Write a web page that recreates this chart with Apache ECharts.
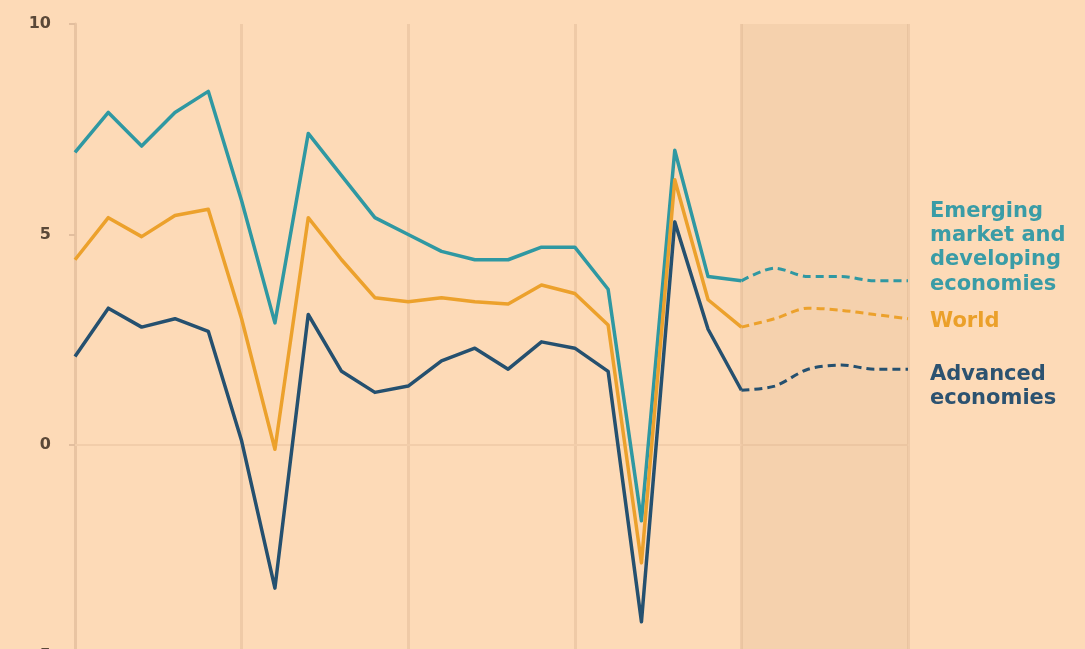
<!DOCTYPE html>
<html>
<head>
<meta charset="utf-8">
<script src="https://cdn.jsdelivr.net/npm/echarts@6/dist/echarts.min.js"></script>
<style>
  html, body { margin: 0; padding: 0; background: #FDDAB7; overflow: hidden; }
  #chart { width: 1085px; height: 700px; }
</style>
</head>
<body>
<div id="chart"></div>
<script>
// Real GDP growth, annual percent change
const years = ['2003','2004','2005','2006','2007','2008','2009','2010','2011','2012','2013','2014','2015',
               '2016','2017','2018','2019','2020','2021','2022','2023','2024','2025','2026','2027','2028'];
const emerging = [6.95, 7.9, 7.1, 7.9, 8.4, 5.8, 2.9, 7.4, 6.4, 5.4, 5.0, 4.6, 4.4,
                  4.4, 4.7, 4.7, 3.7, -1.8, 7.0, 4.0, 3.9, 4.2, 4.0, 4.0, 3.9, 3.9];
const world    = [4.4, 5.4, 4.95, 5.45, 5.6, 3.0, -0.1, 5.4, 4.4, 3.5, 3.4, 3.5, 3.4,
                  3.35, 3.8, 3.6, 2.85, -2.8, 6.3, 3.45, 2.8, 3.0, 3.25, 3.2, 3.1, 3.0];
const advanced = [2.1, 3.25, 2.8, 3.0, 2.7, 0.1, -3.4, 3.1, 1.75, 1.25, 1.4, 2.0, 2.3,
                  1.8, 2.45, 2.3, 1.75, -4.2, 5.3, 2.75, 1.3, 1.4, 1.8, 1.9, 1.8, 1.8];
const forecastFrom = '2023';
const forecastTo = '2028';
const yTicks = { min: -5, max: 10, step: 5 };

const colors = { emerging: '#2F98A2', world: '#ECA12C', advanced: '#25506F' };

const cut = years.indexOf(forecastFrom);
const actualPart = arr => arr.map((v, i) => (i <= cut ? v : null));
const forecastPart = arr => arr.map((v, i) => (i >= cut ? v : null));

function solid(name, arr, color) {
  return {
    name, type: 'line', data: actualPart(arr), z: 3,
    symbol: 'none', connectNulls: false,
    lineStyle: { color, width: 3.5, join: 'round' }
  };
}
function dashed(name, arr, color) {
  return {
    name: name + ' (projection)', type: 'line', data: forecastPart(arr), z: 3,
    symbol: 'none', smooth: 0.3,
    lineStyle: { color, width: 3, type: [8, 5] }
  };
}

const chart = echarts.init(document.getElementById('chart'), null, { renderer: 'canvas' });

chart.setOption({
  backgroundColor: '#FDDAB7',
  animation: false,
  grid: { left: 75, right: 177, top: 24, bottom: 44.5 },
  xAxis: {
    type: 'category',
    data: years,
    boundaryGap: false,
    axisLine: { show: true, onZero: true, lineStyle: { color: '#F2CDAA', width: 2 } },
    axisTick: { show: false },
    axisLabel: { show: false },
    splitLine: {
      show: true,
      interval: (i) => i % 5 === 0,
      lineStyle: { color: '#EFCAA7', width: 3 }
    }
  },
  yAxis: {
    type: 'value',
    min: yTicks.min, max: yTicks.max, interval: yTicks.step,
    axisLine: { show: true, lineStyle: { color: '#E9C4A2', width: 3 } },
    axisTick: { show: true, length: 6, lineStyle: { color: '#E2BE9E', width: 2 } },
    axisLabel: {
      margin: 24,
      color: '#5A4838',
      fontFamily: 'DejaVu Sans',
      fontWeight: 'bold',
      fontSize: 16
    },
    splitLine: { show: false }
  },
  series: [
    {
      name: 'projection band', type: 'line', data: [], z: 1, silent: true,
      markArea: {
        silent: true,
        itemStyle: { color: 'rgba(200,160,120,0.15)' },
        data: [[{ xAxis: forecastFrom }, { xAxis: forecastTo }]]
      }
    },
    solid('Emerging market and developing economies', emerging, colors.emerging),
    solid('World', world, colors.world),
    solid('Advanced economies', advanced, colors.advanced),
    dashed('Emerging market and developing economies', emerging, colors.emerging),
    dashed('World', world, colors.world),
    dashed('Advanced economies', advanced, colors.advanced)
  ],
  graphic: [
    {
      type: 'text', left: 930, top: 199,
      style: {
        text: 'Emerging\nmarket and\ndeveloping\neconomies',
        font: 'bold 21px "DejaVu Sans"', fill: '#3A9CA6', lineHeight: 24.4
      }
    },
    {
      type: 'text', left: 930, top: 309,
      style: { text: 'World', font: 'bold 21px "DejaVu Sans"', fill: '#EBA02A', lineHeight: 24.4 }
    },
    {
      type: 'text', left: 930, top: 362,
      style: {
        text: 'Advanced\neconomies',
        font: 'bold 21px "DejaVu Sans"', fill: '#2C5270', lineHeight: 24.4
      }
    }
  ]
});
</script>
</body>
</html>
